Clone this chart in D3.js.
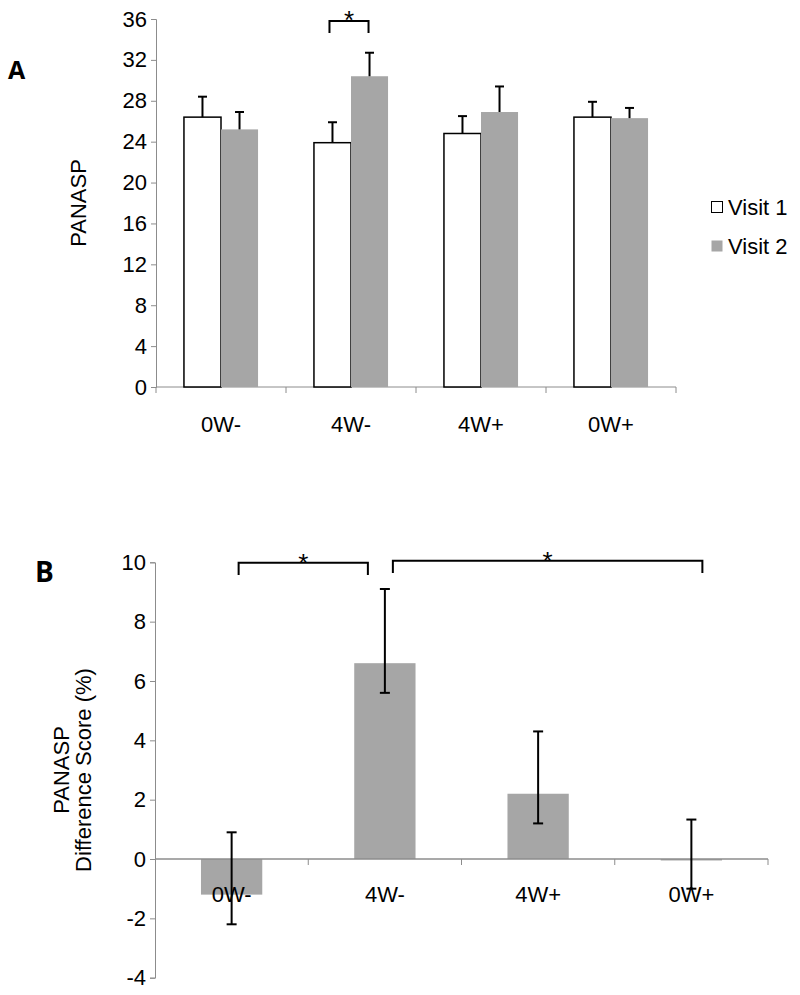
<!DOCTYPE html>
<html>
<head>
<meta charset="utf-8">
<script src="https://cdn.jsdelivr.net/npm/d3@7"></script>
<style>
  body { margin: 0; background: #fff; }
  svg { display: block; font-family: "Liberation Sans", Arial, sans-serif; }
</style>
</head>
<body>
<div id="vis-container"></div>
<script>
// values
const categories = ["0W-", "4W-", "4W+", "0W+"];
const visit1 = [26.4, 23.9, 24.8, 26.4];
const visit1Err = [2.0, 2.0, 1.7, 1.5];
const visit2 = [25.2, 30.4, 26.9, 26.3];
const visit2Err = [1.7, 2.3, 2.5, 1.0];
const seriesNames = ["Visit 1", "Visit 2"];
const ticksA = [0, 4, 8, 12, 16, 20, 24, 28, 32, 36];

const diffScore = [-1.2, 6.6, 2.2, -0.05];
const diffErrUp = [2.1, 2.5, 2.1, 1.38];
const diffErrDown = [1.0, 1.0, 1.0, 0.95];
const ticksB = [-4, -2, 0, 2, 4, 6, 8, 10];

const W = 800, H = 995;
const grey = "#a6a6a6", axisCol = "#8c8c8c";
const fs = "22px";
const hyphen = d => String(d).replace("\u2212", "-");

const svg = d3.select("#vis-container")
  .append("svg")
    .attr("width", W)
    .attr("height", H);

// ---------- panel A ----------
const xA = d3.scaleBand()
  .domain(categories)
  .range([156, 676])
  .paddingInner(0.43)
  .paddingOuter(0.215);

const xA1 = d3.scaleBand()
  .domain(seriesNames)
  .range([0, xA.bandwidth()]);

const yA = d3.scaleLinear()
  .domain([0, 36])
  .range([387, 19]);

const gA = svg.append("g");

// y axis
const yAxisA = gA.append("g")
  .attr("transform", `translate(156,0)`)
  .call(d3.axisLeft(yA).tickValues(ticksA).tickSize(5).tickPadding(4).tickFormat(d => hyphen(d)));
yAxisA.select(".domain").attr("stroke", axisCol);
yAxisA.selectAll(".tick line").attr("stroke", axisCol);
yAxisA.selectAll(".tick text")
  .attr("fill", "#000")
  .style("font-size", fs);

// x axis (ticks between categories)
const boundsA = d3.range(categories.length + 1).map(i => 156 + i * xA.step());
gA.append("line")
  .attr("x1", 156).attr("x2", 676)
  .attr("y1", yA(0)).attr("y2", yA(0))
  .attr("stroke", axisCol);
gA.selectAll(".xtick")
  .data(boundsA)
  .join("line")
    .attr("x1", d => d).attr("x2", d => d)
    .attr("y1", yA(0)).attr("y2", yA(0) + 6)
    .attr("stroke", axisCol);
gA.selectAll(".xlab")
  .data(categories)
  .join("text")
    .attr("x", d => xA(d) + xA.bandwidth() / 2)
    .attr("y", 432)
    .attr("text-anchor", "middle")
    .style("font-size", fs)
    .text(d => d);

// bars
const rowsA = categories.map((c, i) => [
  { cat: c, s: "Visit 1", v: visit1[i], e: visit1Err[i] },
  { cat: c, s: "Visit 2", v: visit2[i], e: visit2Err[i] }
]).flat();

gA.selectAll(".bar")
  .data(rowsA)
  .join("rect")
    .attr("x", d => xA(d.cat) + xA1(d.s))
    .attr("y", d => yA(d.v))
    .attr("width", xA1.bandwidth())
    .attr("height", d => yA(0) - yA(d.v))
    .attr("fill", d => d.s === "Visit 1" ? "#fff" : grey)
    .attr("stroke", d => d.s === "Visit 1" ? "#000" : "none")
    .attr("stroke-width", 1.5);

// error bars (upper only)
const errA = gA.selectAll(".err")
  .data(rowsA)
  .join("g")
    .attr("transform", d => `translate(${xA(d.cat) + xA1(d.s) + xA1.bandwidth() / 2},0)`);
errA.append("line")
  .attr("y1", d => yA(d.v)).attr("y2", d => yA(d.v + d.e))
  .attr("stroke", "#000").attr("stroke-width", 2);
errA.append("line")
  .attr("x1", -4.5).attr("x2", 4.5)
  .attr("y1", d => yA(d.v + d.e)).attr("y2", d => yA(d.v + d.e))
  .attr("stroke", "#000").attr("stroke-width", 2);

// significance bracket
const bx1 = xA("4W-") + xA1("Visit 1") + xA1.bandwidth() / 2 - 3,
      bx2 = xA("4W-") + xA1("Visit 2") + xA1.bandwidth() / 2 - 1;
gA.append("path")
  .attr("d", `M${bx1},33 V21 H${bx2} V33`)
  .attr("fill", "none").attr("stroke", "#000").attr("stroke-width", 2);
gA.append("text")
  .attr("x", (bx1 + bx2) / 2).attr("y", 29)
  .attr("text-anchor", "middle")
  .style("font-size", "26px")
  .text("*");

// y label
gA.append("text")
  .attr("transform", `translate(86,${(yA(0) + yA(36)) / 2}) rotate(-90)`)
  .attr("text-anchor", "middle")
  .style("font-size", fs)
  .text("PANASP");

// legend
const legend = gA.selectAll(".leg")
  .data(seriesNames)
  .join("g")
    .attr("transform", (d, i) => `translate(711,${201 + i * 39})`);
legend.append("rect")
  .attr("x", 0.5).attr("y", 0.5)
  .attr("width", 11).attr("height", 11)
  .attr("fill", (d, i) => i === 0 ? "#fff" : grey)
  .attr("stroke", (d, i) => i === 0 ? "#000" : "none");
legend.append("text")
  .attr("x", 17).attr("y", 14)
  .style("font-size", fs)
  .text(d => d);

// panel letter
svg.append("text")
  .attr("x", 8).attr("y", 79)
  .style("font-family", "'Open Sans', sans-serif")
  .style("font-weight", "bold")
  .style("font-size", "25px")
  .text("A");

// ---------- panel B ----------
const xB = d3.scaleBand()
  .domain(categories)
  .range([155, 768])
  .paddingInner(0.6)
  .paddingOuter(0.3);

const yB = d3.scaleLinear()
  .domain([-4, 10])
  .range([977.7, 562.3]);

const gB = svg.append("g");

const yAxisB = gB.append("g")
  .attr("transform", `translate(155,0)`)
  .call(d3.axisLeft(yB).tickValues(ticksB).tickSize(5).tickPadding(4).tickFormat(d => hyphen(d)));
yAxisB.select(".domain").attr("stroke", axisCol);
yAxisB.selectAll(".tick line").attr("stroke", axisCol);
yAxisB.selectAll(".tick text")
  .attr("fill", "#000")
  .style("font-size", fs);

// bars
gB.selectAll(".bar")
  .data(categories)
  .join("rect")
    .attr("x", d => xB(d))
    .attr("y", (d, i) => yB(Math.max(0, diffScore[i])))
    .attr("width", xB.bandwidth())
    .attr("height", (d, i) => Math.abs(yB(diffScore[i]) - yB(0)))
    .attr("fill", grey);

// x axis on zero line
const stepB = (768 - 155) / categories.length;
const boundsB = d3.range(categories.length + 1).map(i => 155 + i * stepB);
gB.append("line")
  .attr("x1", 155).attr("x2", 768)
  .attr("y1", yB(0)).attr("y2", yB(0))
  .attr("stroke", axisCol).attr("stroke-width", 1.5);
gB.selectAll(".xtick")
  .data(boundsB.slice(1))
  .join("line")
    .attr("x1", d => d).attr("x2", d => d)
    .attr("y1", yB(0)).attr("y2", yB(0) + 6)
    .attr("stroke", axisCol);

gB.selectAll(".xlab")
  .data(categories)
  .join("text")
    .attr("x", d => xB(d) + xB.bandwidth() / 2)
    .attr("y", 902)
    .attr("text-anchor", "middle")
    .style("font-size", fs)
    .text(d => d);

// error bars
const errB = gB.selectAll(".err")
  .data(categories)
  .join("g")
    .attr("transform", d => `translate(${xB(d) + xB.bandwidth() / 2},0)`);
errB.append("line")
  .attr("y1", (d, i) => yB(diffScore[i] - diffErrDown[i]))
  .attr("y2", (d, i) => yB(diffScore[i] + diffErrUp[i]))
  .attr("stroke", "#000").attr("stroke-width", 2);
[diffErrUp, diffErrDown].forEach((arr, k) => {
  errB.append("line")
    .attr("x1", -5).attr("x2", 5)
    .attr("y1", (d, i) => yB(diffScore[i] + (k === 0 ? arr[i] : -arr[i])))
    .attr("y2", (d, i) => yB(diffScore[i] + (k === 0 ? arr[i] : -arr[i])))
    .attr("stroke", "#000").attr("stroke-width", 2);
});

// brackets
const cB = d => xB(d) + xB.bandwidth() / 2;
const brackets = [
  { x1: cB("0W-") + 7, x2: cB("4W-") - 17, top: 562.7, bot: 575 },
  { x1: cB("4W-") + 8, x2: cB("0W+") + 11, top: 560.7, bot: 573 }
];
brackets.forEach(b => {
  gB.append("path")
    .attr("d", `M${b.x1},${b.bot} V${b.top} H${b.x2} V${b.bot}`)
    .attr("fill", "none").attr("stroke", "#000").attr("stroke-width", 2);
  gB.append("text")
    .attr("x", (b.x1 + b.x2) / 2).attr("y", b.top + 9)
    .attr("text-anchor", "middle")
    .style("font-size", "26px")
    .text("*");
});

// y label (two lines)
const yLabB = gB.append("text")
  .attr("transform", `translate(0,${(yB(-4) + yB(10)) / 2}) rotate(-90)`)
  .attr("text-anchor", "middle")
  .style("font-size", fs);
yLabB.append("tspan").attr("x", 0).attr("y", 69).text("PANASP");
yLabB.append("tspan").attr("x", 0).attr("y", 91).text("Difference Score (%)");

svg.append("text")
  .attr("x", 35).attr("y", 582)
  .style("font-family", "'Open Sans', sans-serif")
  .style("font-weight", "bold")
  .style("font-size", "28px")
  .text("B");
</script>
</body>
</html>
